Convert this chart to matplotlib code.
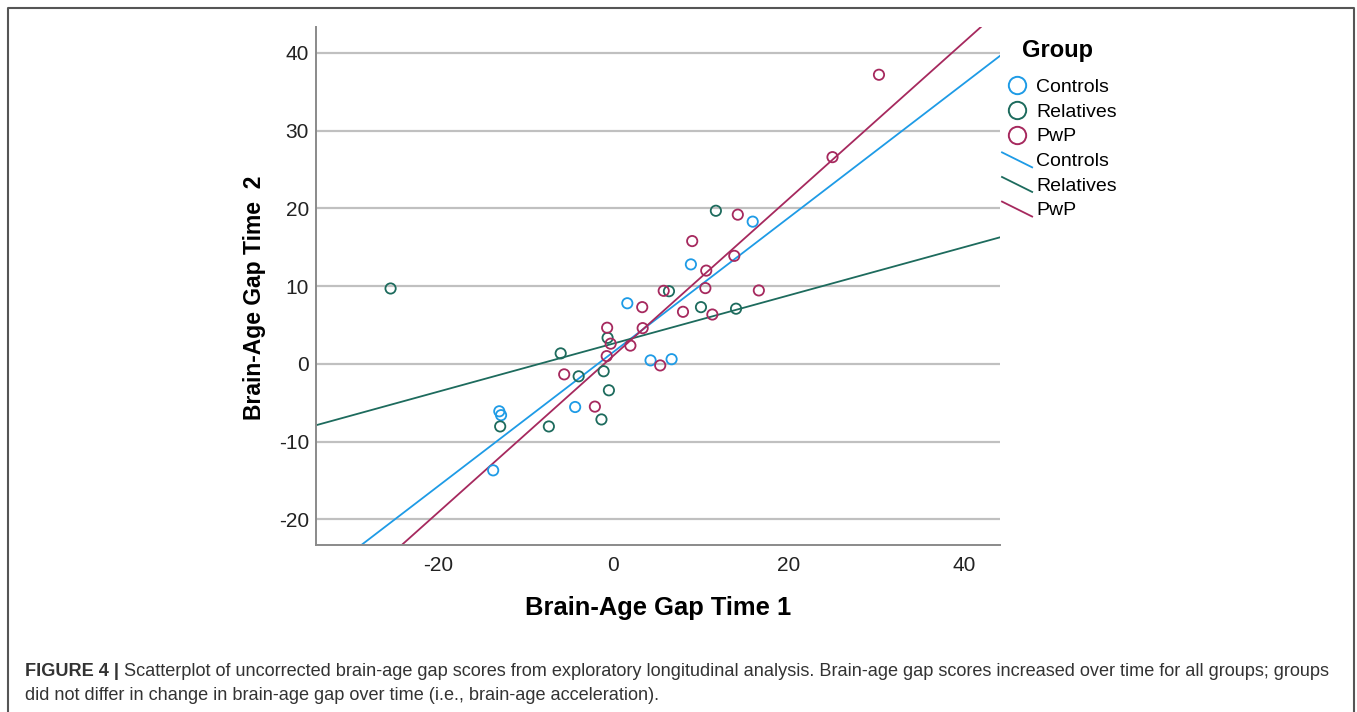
#! /usr/bin/env python3
# Scatterplot of brain-age gap, time 1 vs time 2, with per-group linear fits
import numpy as np
import matplotlib
matplotlib.use("Agg")
import matplotlib.pyplot as plt
from matplotlib.lines import Line2D
from matplotlib.legend_handler import HandlerBase

plt.rcParams['font.family'] = ['Liberation Sans', 'DejaVu Sans']
plt.rcParams['axes.unicode_minus'] = False

groups = ["Controls", "Relatives", "PwP"]
colors = {"Controls": "#1e9be6", "Relatives": "#1d6b5d", "PwP": "#a6295e"}

# Brain-age gap time 1 (x) and time 2 (y)
controls_t1 = [-13.7, -13.0, -12.8, -4.35, 1.6, 4.25, 6.65, 8.85, 15.9]
controls_t2 = [-13.7, -6.1, -6.6, -5.55, 7.8, 0.45, 0.6, 12.8, 18.3]

relatives_t1 = [-25.4, -12.9, -7.35, -6.0, -3.95, -1.1, -0.65, -0.5, -1.35,
                6.35, 10.0, 11.7, 14.0]
relatives_t2 = [9.7, -8.05, -8.05, 1.35, -1.6, -0.95, 3.35, -3.4, -7.15,
                9.35, 7.3, 19.7, 7.1]

pwp_t1 = [-5.6, -2.1, -0.75, -0.7, -0.3, 1.95, 3.3, 3.35, 5.35, 5.75,
          7.95, 9.0, 10.6, 10.5, 11.3, 13.8, 14.2, 16.6, 25.0, 30.3]
pwp_t2 = [-1.35, -5.5, 1.0, 4.65, 2.6, 2.35, 7.3, 4.6, -0.2, 9.4,
          6.7, 15.8, 12.0, 9.75, 6.35, 13.9, 19.2, 9.45, 26.6, 37.2]

data = {
    "Controls": (controls_t1, controls_t2),
    "Relatives": (relatives_t1, relatives_t2),
    "PwP": (pwp_t1, pwp_t2),
}

xticks = [-20, 0, 20, 40]
yticks = [-20, -10, 0, 10, 20, 30, 40]
xlim = (-33.9, 44.1)
ylim = (-23.3, 43.3)


# SPSS-style legend glyph for fit lines: a short diagonal stroke
class DiagHandler(HandlerBase):
    def create_artists(self, legend, orig_handle, xdescent, ydescent,
                       width, height, fontsize, trans):
        ln = Line2D([-xdescent, -xdescent + width],
                    [-ydescent + height * 1.0, -ydescent - height * 0.1],
                    color=orig_handle.get_color(), lw=1.3)
        ln.set_transform(trans)
        return [ln]


fig = plt.figure(figsize=(13.57, 7.12), dpi=100)
ax = fig.add_axes([0.2329, 0.2346, 0.504, 0.727])

for g in groups:
    x, y = data[g]
    ax.scatter(x, y, s=55, facecolors='none', edgecolors=colors[g],
               linewidths=1.3, zorder=3)

# least-squares fit per group across the whole x range
xs = np.array(xlim)
for g in groups:
    x, y = data[g]
    b, a = np.polyfit(x, y, 1)
    ax.plot(xs, a + b * xs, color=colors[g], lw=1.3, zorder=2)

ax.set_xlim(*xlim)
ax.set_ylim(*ylim)
ax.set_xticks(xticks)
ax.set_yticks(yticks)
ax.yaxis.grid(True, color='#c0c0c0', lw=1.6)
ax.set_axisbelow(True)
ax.tick_params(length=0, labelsize=15, colors='#222222')
ax.tick_params(axis='y', pad=5)
ax.tick_params(axis='x', pad=8)
for s in ['top', 'right']:
    ax.spines[s].set_visible(False)
for s in ['left', 'bottom']:
    ax.spines[s].set_color('#8a8a8a')
    ax.spines[s].set_linewidth(1.4)

ax.set_xlabel("Brain-Age Gap Time 1", fontsize=18.4, fontweight='bold', labelpad=15)
ax.set_ylabel("Brain-Age Gap Time  2", fontsize=16.5, fontweight='bold')
ax.yaxis.set_label_coords(-0.073, 0.477)

# legend: markers then fit lines
handles = []
labels = []
for g in groups:
    handles.append(Line2D([], [], ls='none', marker='o', markersize=12.5,
                          markerfacecolor='none', markeredgecolor=colors[g],
                          markeredgewidth=1.4))
    labels.append(g)
line_handles = [Line2D([], [], color=colors[g]) for g in groups]
handles += line_handles
labels += groups
leg = fig.legend(handles, labels, title="Group", loc='upper left',
                 bbox_to_anchor=(0.7255, 0.970), frameon=False, fontsize=14,
                 title_fontproperties={'weight': 'bold', 'size': 17},
                 alignment='left', handlelength=1.55, handletextpad=0.22,
                 labelspacing=0.36,
                 handler_map={h: DiagHandler() for h in line_handles})
leg._legend_box.sep = 12
leg.get_title().set_position((20, 0))

# outer frame (open at the bottom, like the cropped figure panel)
fig.add_artist(Line2D([0.006, 0.006, 0.9975, 0.9975], [0.0, 0.989, 0.989, 0.0],
                      transform=fig.transFigure, color='#555555', lw=1.5))

# caption
cap1 = ("Scatterplot of uncorrected brain-age gap scores from exploratory longitudinal "
        "analysis. Brain-age gap scores increased over time for all groups; groups")
cap2 = "did not differ in change in brain-age gap over time (i.e., brain-age acceleration)."
y1, y2 = 0.0506, 0.0169
t = fig.text(0.0184, y1, "FIGURE 4 | ", fontsize=13.1, fontweight='bold',
             color='#333333', va='baseline')
fig.canvas.draw()
bb = t.get_window_extent()
fig.text(bb.x1 / fig.bbox.width, y1, cap1, fontsize=13.1,
         color='#333333', va='baseline')
fig.text(0.0184, y2, cap2, fontsize=13.1, color='#333333', va='baseline')

fig.savefig("out.png", dpi=100)
